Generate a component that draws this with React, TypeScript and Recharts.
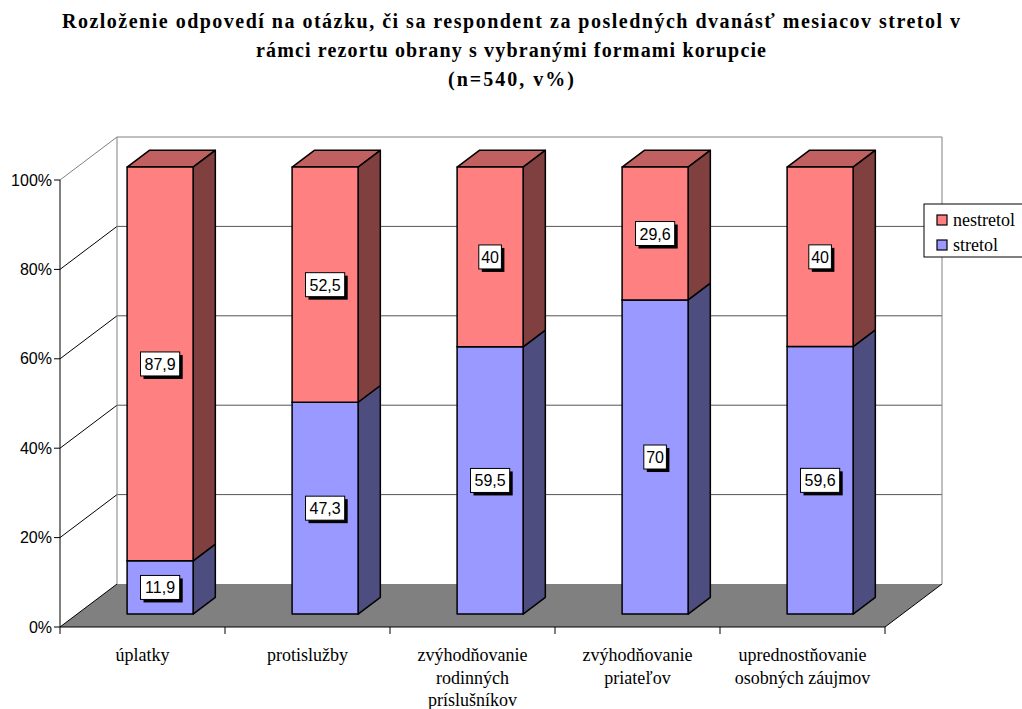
import React from "react";
import {
  BarChart,
  Bar,
  XAxis,
  YAxis,
  LabelList,
  Customized,
} from "recharts";

// categories (split into the lines shown under the axis)
const CATEGORIES: string[][] = [
  ["úplatky"],
  ["protislužby"],
  ["zvýhodňovanie", "rodinných", "príslušníkov"],
  ["zvýhodňovanie", "priateľov"],
  ["uprednostňovanie", "osobných záujmov"],
];

const STRETOL = [11.9, 47.3, 59.5, 70, 59.6];
const NESTRETOL = [87.9, 52.5, 40, 29.6, 40];
const Y_TICKS = [0, 0.2, 0.4, 0.6, 0.8, 1];

const TITLE = [
  "Rozloženie odpovedí  na otázku, či sa respondent za posledných dvanásť mesiacov stretol v",
  "rámci rezortu obrany s vybranými formami korupcie",
  "(n=540, v%)",
];
// rendered width of each title line
const TITLE_WIDTHS = [898, 510, 126];

const data = CATEGORIES.map((lines, i) => ({
  name: lines.join(" "),
  stretol: STRETOL[i],
  nestretol: NESTRETOL[i],
}));

// layout of the front plane
const W = 1022;
const H = 709;
const LEFT = 60;
const TOP = 180;
const RIGHT = 885;
const BOTTOM = 627;
const BAND = (RIGHT - LEFT) / CATEGORIES.length;

// 3D depth of the whole box, and where the bars sit in it
const DX = 57;
const DY = -43;
const BAR_FRONT = 0.3;
const BAR_DEPTH = 0.39;

const SERIF = "Liberation Serif, DejaVu Serif, serif";
const SANS = "Liberation Sans, Arial, sans-serif";

const RED = { front: "#FF8080", top: "#C06060", side: "#804040" };
const BLUE = { front: "#9999FF", top: "#7373C0", side: "#4D4D80" };

function Box3D(props: any) {
  const { x, y, width, height, colors } = props;
  if (width == null || height == null) return null;
  const x0 = x + BAR_FRONT * DX;
  const y0 = y + BAR_FRONT * DY;
  const dx = BAR_DEPTH * DX;
  const dy = BAR_DEPTH * DY;
  const pts = (a: number[][]) => a.map((p) => p.join(",")).join(" ");
  return (
    <g stroke="#000" strokeWidth={1.5} strokeLinejoin="round">
      <polygon
        fill={colors.top}
        points={pts([
          [x0, y0],
          [x0 + dx, y0 + dy],
          [x0 + width + dx, y0 + dy],
          [x0 + width, y0],
        ])}
      />
      <polygon
        fill={colors.side}
        points={pts([
          [x0 + width, y0],
          [x0 + width + dx, y0 + dy],
          [x0 + width + dx, y0 + height + dy],
          [x0 + width, y0 + height],
        ])}
      />
      <rect x={x0} y={y0} width={width} height={height} fill={colors.front} />
    </g>
  );
}

function ValueTag(props: any) {
  const { x, y, width, height, index, values } = props;
  const text = String(values[index]).replace(".", ",");
  const cx = x + BAR_FRONT * DX + width / 2;
  const cy = y + BAR_FRONT * DY + height / 2;
  const w = text.length * 8.3 + 6;
  const h = 24;
  return (
    <g>
      <rect x={cx - w / 2 + 3} y={cy - h / 2 + 3} width={w} height={h} fill="#000" />
      <rect
        x={cx - w / 2}
        y={cy - h / 2}
        width={w}
        height={h}
        fill="#fff"
        stroke="#000"
        strokeWidth={1}
      />
      <text
        x={cx}
        y={cy + 6}
        textAnchor="middle"
        fontFamily={SANS}
        fontSize={16}
        fill="#000"
      >
        {text}
      </text>
    </g>
  );
}

function CategoryTick(props: any) {
  const { x, payload, index } = props;
  const lines = CATEGORIES[index] ?? [payload.value];
  const left = x - BAND / 2;
  return (
    <g>
      <line x1={left} y1={BOTTOM} x2={left} y2={BOTTOM + 7} stroke="#000" />
      {index === CATEGORIES.length - 1 && (
        <line x1={x + BAND / 2} y1={BOTTOM} x2={x + BAND / 2} y2={BOTTOM + 7} stroke="#000" />
      )}
      {lines.map((l, i) => (
        <text
          key={i}
          x={x}
          y={BOTTOM + 34 + i * 22.5}
          textAnchor="middle"
          fontFamily={SERIF}
          fontSize={18}
          fill="#000"
        >
          {l}
        </text>
      ))}
    </g>
  );
}

// walls, floor and gridlines behind the bars
function Walls() {
  const yOf = (v: number) => BOTTOM - v * (BOTTOM - TOP);
  const bx = LEFT + DX;
  const bxr = RIGHT + DX;
  return (
    <g>
      <polygon
        points={`${LEFT},${BOTTOM} ${RIGHT},${BOTTOM} ${bxr},${BOTTOM + DY} ${bx},${BOTTOM + DY}`}
        fill="#808080"
      />
      <line x1={RIGHT} y1={BOTTOM} x2={bxr} y2={BOTTOM + DY} stroke="#000" />
      {Y_TICKS.slice(1, -1).map((v) => (
        <g key={v}>
          <line x1={LEFT} y1={yOf(v)} x2={bx} y2={yOf(v) + DY} stroke="#000" />
          <line x1={bx} y1={yOf(v) + DY} x2={bxr} y2={yOf(v) + DY} stroke="#555" />
        </g>
      ))}
      <line x1={LEFT} y1={BOTTOM} x2={bx} y2={BOTTOM + DY} stroke="#000" />
      <line x1={LEFT} y1={TOP} x2={bx} y2={TOP + DY} stroke="#808080" />
      <line x1={bx} y1={TOP + DY} x2={bxr} y2={TOP + DY} stroke="#808080" />
      <line x1={bx} y1={TOP + DY} x2={bx} y2={BOTTOM + DY} stroke="#808080" />
      <line x1={bxr} y1={TOP + DY} x2={bxr} y2={BOTTOM + DY} stroke="#808080" />
    </g>
  );
}

function TitleAndLegend() {
  return (
    <g>
      {TITLE.map((l, i) => (
        <text
          key={i}
          x={W / 2}
          y={28 + i * 29}
          textAnchor="middle"
          textLength={TITLE_WIDTHS[i]}
          lengthAdjust="spacing"
          fontFamily={SERIF}
          fontSize={20}
          fontWeight="bold"
          fill="#000"
        >
          {l}
        </text>
      ))}
      <rect x={924} y={204} width={110} height={53} fill="#fff" stroke="#000" />
      <rect x={937} y={215} width={10} height={10} fill={RED.front} stroke="#000" strokeWidth={1.2} />
      <rect x={937} y={240} width={10} height={10} fill={BLUE.front} stroke="#000" strokeWidth={1.2} />
      <text x={953} y={226} fontFamily={SERIF} fontSize={18} fill="#000">
        nestretol
      </text>
      <text x={953} y={251} fontFamily={SERIF} fontSize={18} fill="#000">
        stretol
      </text>
    </g>
  );
}

export default function App() {
  return (
    <div style={{ position: "absolute", left: 0, top: 0, background: "#fff" }}>
      <BarChart
        width={W}
        height={H}
        data={data}
        stackOffset="expand"
        barSize={66}
        margin={{ top: TOP, right: W - RIGHT, bottom: H - BOTTOM - 30, left: 0 }}
      >
        <Customized component={Walls} />
        <XAxis
          dataKey="name"
          height={30}
          axisLine={{ stroke: "#000" }}
          tickLine={false}
          tick={<CategoryTick />}
          interval={0}
        />
        <YAxis
          width={LEFT}
          domain={[0, 1]}
          ticks={Y_TICKS}
          tickFormatter={(v: number) => `${Math.round(v * 100)}%`}
          axisLine={{ stroke: "#000" }}
          tickLine={{ stroke: "#000" }}
          tick={{ fill: "#000", fontSize: 16, fontFamily: SANS }}
        />
        <Bar
          dataKey="stretol"
          stackId="a"
          isAnimationActive={false}
          shape={(p: any) => <Box3D {...p} colors={BLUE} />}
        >
          <LabelList content={(p: any) => <ValueTag {...p} values={STRETOL} />} />
        </Bar>
        <Bar
          dataKey="nestretol"
          stackId="a"
          isAnimationActive={false}
          shape={(p: any) => <Box3D {...p} colors={RED} />}
        >
          <LabelList content={(p: any) => <ValueTag {...p} values={NESTRETOL} />} />
        </Bar>
        <Customized component={TitleAndLegend} />
      </BarChart>
    </div>
  );
}
